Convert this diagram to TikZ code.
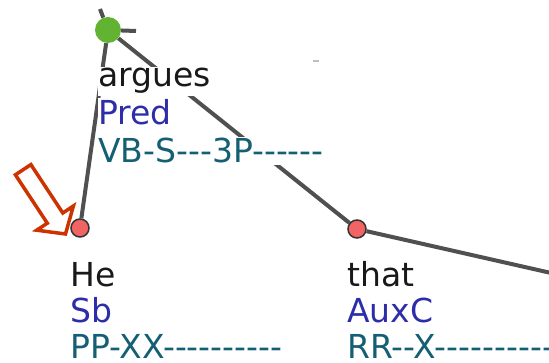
\documentclass[tikz,border=0pt]{standalone}
\usepackage{fontspec}
\setmainfont{DejaVu Sans}[Ligatures=TeXOff]
\usepackage{tikz}
\usetikzlibrary{backgrounds}

\definecolor{edgegray}{RGB}{80,80,80}
\definecolor{predgreen}{RGB}{99,179,50}
\definecolor{nodered}{RGB}{242,100,100}
\definecolor{funcblue}{RGB}{45,45,170}
\definecolor{tagteal}{RGB}{20,95,115}
\definecolor{markred}{RGB}{204,51,0}

\begin{document}
\begin{tikzpicture}[x=1pt, y=-1pt, font=\fontsize{33}{37}\selectfont,
    edge/.style={draw=edgegray, line width=4pt},
    root/.style={circle, fill=predgreen, minimum size=26pt, inner sep=0pt},
    leaf/.style={circle, fill=nodered, draw=black!80, line width=1.5pt, minimum size=18pt, inner sep=0pt},
    lab/.style={anchor=base west, fill=white, inner xsep=0pt, inner ysep=2pt},
    word/.style={lab, text=black!90},
    func/.style={lab, text=funcblue},
    tag/.style={lab, text=tagteal}]

    \useasboundingbox (0,0) rectangle (549,363);
    \clip (0,0) rectangle (549,363);

    % Nodes
    \node[root] (pred) at (108,30) {}; %
    \node[leaf] (sb)   at (80,228) {}; %
    \node[leaf] (auxc) at (357,229) {};
    \coordinate (up)   at (100,9);
    \coordinate (stub) at (136,31);
    \coordinate (next) at (560,275);

    % Labels
    \node[word] (argues) at (98,87)  {argues}; %
    \node[func] (predf)  at (98,125) {Pred}; %
    \node[tag]  (predt)  at (98,163) {VB-S---3P------};

    \node[word] (he)  at (70,287) {He}; %
    \node[func] (sbf) at (70,323) {Sb}; %
    \node[tag]  (sbt) at (70,359) {PP-XX----------};

    \node[word] (that)  at (347,287) {that}; %
    \node[func] (auxcf) at (347,323) {AuxC}; %
    \node[tag]  (auxct) at (347,359) {RR--X----------};

    % Edges
    \begin{scope}[on background layer]
    \draw[edge] (up) -- (pred);
    \draw[edge] (pred) -- (stub);
    \draw[edge] (pred) -- (sb);
    \draw[edge] (pred) -- (auxc);
    \draw[edge] (auxc) -- (next);
    \draw[gray!50, line width=1.5pt] (313,61) -- (319,61);
    \end{scope}

    % Marker
    \draw[markred, line width=3.5pt, miter limit=20]
        (30.9,164.6) -- (62.8,213.0) -- (73.4,206.0) -- (65.5,234)
        -- (36.7,230.2) -- (47.3,223.2) -- (15.4,174.8) -- cycle;

\end{tikzpicture}
\end{document}
